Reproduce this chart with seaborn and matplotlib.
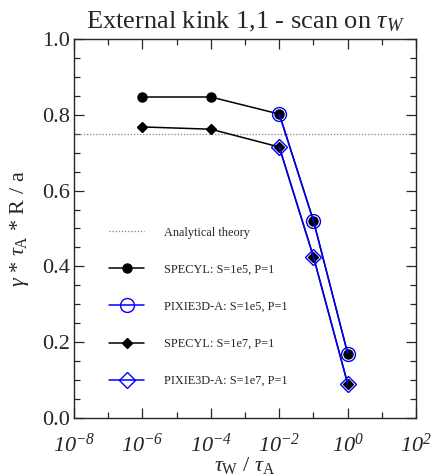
import numpy as np
import pandas as pd
import seaborn as sns
import matplotlib.pyplot as plt
from matplotlib.ticker import FixedLocator, MultipleLocator, FuncFormatter, NullFormatter

# data
tau_specyl = [1e-6, 1e-4, 1e-2, 1e-1, 1e0]
tau_pixie = [1e-2, 1e-1, 1e0]
specyl_s5 = [0.847, 0.847, 0.802, 0.520, 0.170]
pixie_s5 = [0.802, 0.520, 0.170]
specyl_s7 = [0.768, 0.762, 0.715, 0.425, 0.090]
pixie_s7 = [0.715, 0.425, 0.090]
theory = 0.75

sns.set_style("ticks")
plt.rcParams['font.family'] = ['Liberation Serif', 'DejaVu Serif']
plt.rcParams['mathtext.fontset'] = 'custom'
plt.rcParams['mathtext.rm'] = 'Liberation Serif'
plt.rcParams['mathtext.it'] = 'Liberation Serif:italic'
plt.rcParams['mathtext.bf'] = 'Liberation Serif:bold'
# italic digits for the x tick labels
plt.rcParams['mathtext.sf'] = 'Liberation Serif:italic'

fig = plt.figure(figsize=(4.33, 4.76), dpi=100)
ax = fig.add_axes([0.171, 0.122, 0.790, 0.796])

ax.axhline(theory, color='0.5', ls=(0, (1, 1.5)), lw=0.9, label='Analytical theory')

series = [
    ("SPECYL: S=1e5, P=1", tau_specyl, specyl_s5, dict(color='black', marker='o', ms=6.5, mfc='black', mec='black')),
    ("PIXIE3D-A: S=1e5, P=1", tau_pixie, pixie_s5, dict(color='blue', marker='o', ms=10, mfc='none', mec='blue')),
    ("SPECYL: S=1e7, P=1", tau_specyl, specyl_s7, dict(color='black', marker='D', ms=5, mfc='black', mec='black')),
    ("PIXIE3D-A: S=1e7, P=1", tau_pixie, pixie_s7, dict(color='blue', marker='D', ms=8, mfc='none', mec='blue')),
]
for name, xs, ys, st in series:
    df = pd.DataFrame({'tau': xs, 'gamma': ys})
    sns.lineplot(data=df, x='tau', y='gamma', ax=ax, label=name, lw=1.1,
                 markeredgewidth=1.0, **st)

ax.set_xscale('log')
ax.set_xlim(1e-8, 1e2)
ax.set_ylim(0.0, 1.0)
ax.xaxis.set_major_locator(FixedLocator([1e-8, 1e-6, 1e-4, 1e-2, 1e0, 1e2]))
ax.xaxis.set_minor_locator(FixedLocator([1e-7, 1e-5, 1e-3, 1e-1, 1e1]))
ax.xaxis.set_minor_formatter(NullFormatter())
ax.xaxis.set_major_formatter(FuncFormatter(lambda v, p: r'$\mathsf{10^{%d}}$' % round(np.log10(v))))
ax.yaxis.set_major_locator(MultipleLocator(0.2))
ax.yaxis.set_minor_locator(MultipleLocator(0.05))
ax.yaxis.set_major_formatter(FuncFormatter(lambda v, p: '%.1f' % v))

ax.tick_params(which='both', direction='in', top=True, right=True, width=0.9)
ax.tick_params(which='major', length=7)
ax.tick_params(which='minor', length=4)
ax.tick_params(axis='y', labelsize=16, pad=3)
ax.tick_params(axis='x', labelsize=16, pad=11)
for s in ax.spines.values():
    s.set_linewidth(1.0)

ax.set_title(r'External kink 1,1 - scan on $\tau_W$', fontsize=19, pad=8)
ax.set_xlabel(r'$\tau_{\mathrm{W}}$ / $\tau_{\mathrm{A}}$', fontsize=16, labelpad=-1)
ax.set_ylabel(r'$\gamma$ * $\tau_{\mathrm{A}}$ * R / a', fontsize=16, labelpad=8)

ax.legend(loc='lower left', bbox_to_anchor=(0.07, 0.053), frameon=False,
          fontsize=8.8, labelspacing=2.05, handlelength=2.9, handletextpad=1.6)

fig.savefig('out.png', dpi=100)
